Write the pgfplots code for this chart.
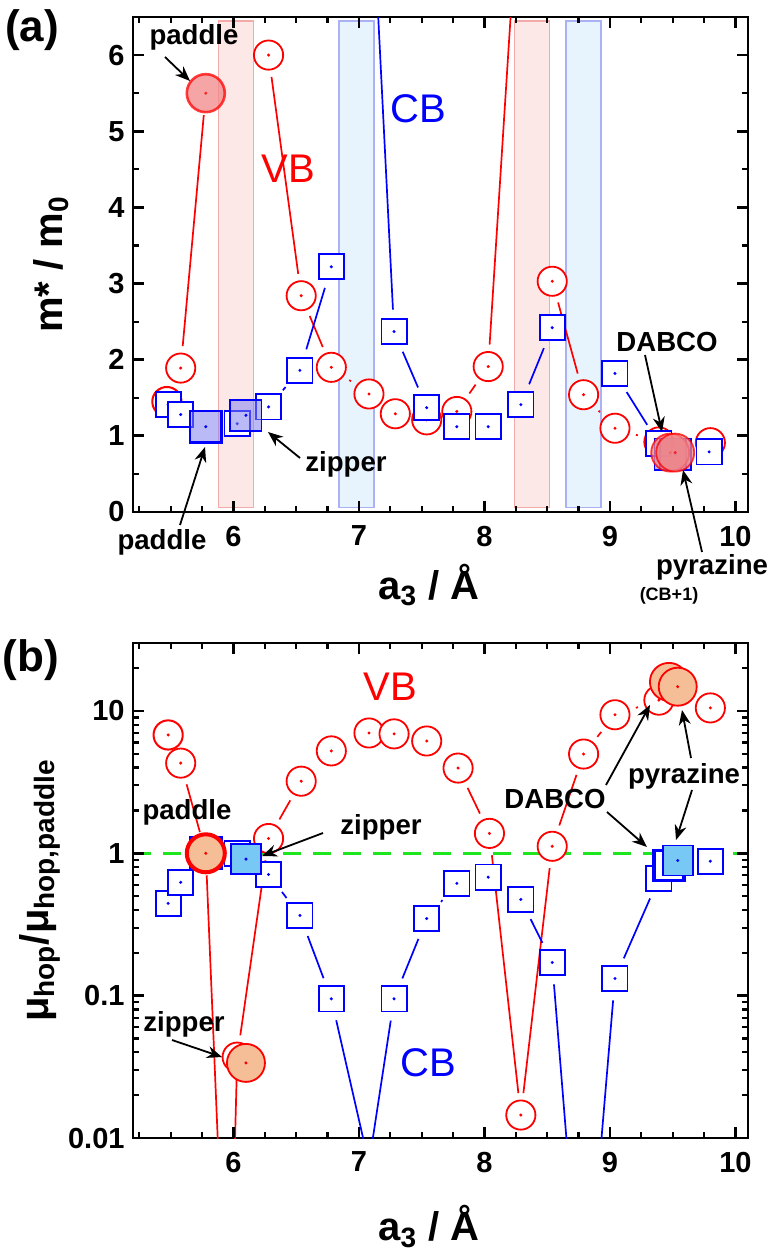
\documentclass[border=0pt]{standalone}
\usepackage{fontspec}
\setmainfont{Liberation Sans}
\usepackage{pgfplots}
\pgfplotsset{compat=1.18}
\usetikzlibrary{arrows.meta}

\definecolor{vbred}{RGB}{255,0,0}
\definecolor{cbblue}{RGB}{0,0,255}
\definecolor{bandR}{RGB}{253,232,232}
\definecolor{bandRe}{RGB}{245,170,170}
\definecolor{bandB}{RGB}{232,244,253}
\definecolor{bandBe}{RGB}{170,178,245}
\definecolor{hlorange}{RGB}{245,190,150}
\definecolor{hlblue}{RGB}{120,200,245}
\definecolor{dashgreen}{RGB}{30,230,30}
\definecolor{pinkfill}{RGB}{242,135,135}
\definecolor{violetfill}{RGB}{130,130,240}

\pgfdeclareplotmark{cdot}{%
  \pgfpathcircle{\pgfpointorigin}{\pgfplotmarksize}%
  \pgfusepathqfillstroke
  \pgfsetlinewidth{0.9pt}%
  \pgfpathcircle{\pgfpointorigin}{0.2pt}%
  \pgfusepathqstroke
}
\pgfdeclareplotmark{sdot}{%
  \pgfpathrectangle{\pgfqpoint{-\pgfplotmarksize}{-\pgfplotmarksize}}{\pgfqpoint{2\pgfplotmarksize}{2\pgfplotmarksize}}%
  \pgfusepathqfillstroke
  \pgfsetlinewidth{0.9pt}%
  \pgfpathcircle{\pgfpointorigin}{0.2pt}%
  \pgfusepathqstroke
}

\pgfplotsset{
  vbm/.style={only marks, mark=cdot, mark size=7.3pt, mark options={draw=vbred, fill=white, line width=1pt, solid}},
  cbm/.style={only marks, mark=sdot, mark size=6.3pt, mark options={draw=cbblue, fill=white, line width=1pt, solid}},
  vbl/.style={vbred, line width=0.85pt, no markers},
  cbl/.style={cbblue, line width=0.85pt, no markers},
  myaxis/.style={
    scale only axis, width=307.5pt, height=247.5pt, anchor=south west,
    xmin=5.2, xmax=10.1, xtick={6,7,8,9,10}, xticklabels={6,7,8,9,10},
    minor x tick num=3,
    axis line style={line width=1.4pt},
    major tick style={black, line width=1.4pt},
    minor tick style={black, line width=1.1pt},
    major tick length=5.5pt, minor tick length=3.2pt,
    tick align=inside, xtick pos=both, ytick pos=both,
    xticklabel pos=lower, yticklabel pos=left,
    ticklabel style={font=\fontsize{14.5}{14.5}\selectfont\bfseries},
    xticklabel style={yshift=-3.4pt},
    yticklabel style={xshift=-0.7pt},
    /pgf/number format/assume math mode=true,
    label style={font=\fontsize{20}{20}\selectfont\bfseries},
  }
}

\newcommand\sg[5]{\addplot[#1, shorten <=11pt, shorten >=11pt] coordinates {(#2,#3) (#4,#5)};}
\newcommand\sgS[5]{\addplot[#1, shorten <=11pt] coordinates {(#2,#3) (#4,#5)};}
\newcommand\sgE[5]{\addplot[#1, shorten >=11pt] coordinates {(#2,#3) (#4,#5)};}

\tikzset{
  ann/.style={font=\fontsize{13.8}{13.8}\selectfont\bfseries, inner sep=0pt, anchor=center},
  arr/.style={-{Stealth[length=7.5pt,width=6pt]}, line width=0.9pt, black},
}

\begin{document}
\begin{tikzpicture}
\useasboundingbox (0,0) rectangle (385.5pt,-626pt);

% ---------------- (a) ----------------
\begin{axis}[myaxis, at={(66.5pt,-256pt)},
  ymin=0, ymax=6.5, ytick={0,1,2,3,4,5,6}, yticklabels={0,1,2,3,4,5,6},
  minor y tick num=1,
  xlabel={a\textsubscript{3} / Å},
  xlabel style={at={(axis description cs:0.481,-0.147)}, anchor=center},
  ylabel={m* / m\textsubscript{0}},
  ylabel style={at={(axis description cs:-0.133,0.5)}, anchor=center},
]
\draw[fill=bandR, draw=bandRe, line width=0.7pt] (axis cs:5.88,0.06) rectangle (axis cs:6.16,6.45);
\draw[fill=bandB, draw=bandBe, line width=0.7pt] (axis cs:6.84,0.06) rectangle (axis cs:7.12,6.45);
\draw[fill=bandR, draw=bandRe, line width=0.7pt] (axis cs:8.24,0.06) rectangle (axis cs:8.52,6.45);
\draw[fill=bandB, draw=bandBe, line width=0.7pt] (axis cs:8.65,0.06) rectangle (axis cs:8.93,6.45);

% VB lines
\sg{vbl}{5.58}{1.89}{5.78}{5.5}
\sg{vbl}{6.28}{6.0}{6.54}{2.84}
\sg{vbl}{6.54}{2.84}{6.78}{1.9}
\sg{vbl}{6.78}{1.9}{7.08}{1.55}
\sg{vbl}{7.78}{1.32}{8.03}{1.91}
\sgS{vbl}{8.03}{1.91}{8.29}{8.6}
\sg{vbl}{8.54}{3.03}{8.79}{1.54}
\sg{vbl}{8.79}{1.54}{9.04}{1.1}
\sg{vbl}{9.04}{1.1}{9.39}{0.92}
% CB lines
\sg{cbl}{6.28}{1.38}{6.53}{1.86}
\sg{cbl}{6.53}{1.86}{6.78}{3.22}
\sgE{cbl}{7.05}{9.9}{7.28}{2.37}
\sg{cbl}{7.28}{2.37}{7.54}{1.37}
\sg{cbl}{8.29}{1.41}{8.54}{2.42}
\sg{cbl}{9.04}{1.82}{9.39}{0.9}

% VB open
\addplot[vbm] coordinates {(5.47,1.45) (5.58,1.89) (6.28,6.0) (6.54,2.84) (6.78,1.9) (7.08,1.55) (7.29,1.29) (7.54,1.21) (7.78,1.32) (8.03,1.91) (8.54,3.03) (8.79,1.54) (9.04,1.1) (9.39,0.92) (9.8,0.91)};
% CB open
\addplot[cbm] coordinates {(5.48,1.41) (5.58,1.28) (6.03,1.16) (6.28,1.38) (6.53,1.86) (6.78,3.22) (7.28,2.37) (7.54,1.37) (7.78,1.12) (8.03,1.12) (8.29,1.41) (8.54,2.42) (9.04,1.82) (9.39,0.9) (9.79,0.79)};
% CB highlighted
\addplot[only marks, mark=sdot, mark size=7.8pt, mark options={draw=cbblue, fill=violetfill, fill opacity=0.55, line width=1.3pt}] coordinates {(5.78,1.12) (6.1,1.27) (9.48,0.76) (9.52,0.76)};
% VB highlighted
\addplot[only marks, mark=cdot, mark size=9.5pt, mark options={draw=vbred, draw opacity=0.75, fill=pinkfill, fill opacity=0.75, line width=1.3pt}] coordinates {(5.78,5.5) (9.48,0.78) (9.52,0.78)};
\end{axis}

% ---------------- (b) ----------------
\begin{axis}[myaxis, at={(66.5pt,-569pt)},
  ymode=log, ymin=0.01, ymax=30,
  ytick={0.01,0.1,1,10}, yticklabels={0.01,0.1,1,10},
  xlabel={a\textsubscript{3} / Å},
  xlabel style={at={(axis description cs:0.481,-0.179)}, anchor=center},
  ylabel={μ\textsubscript{hop}/μ\textsubscript{hop,paddle}},
  ylabel style={at={(axis description cs:-0.151,0.5)}, anchor=center},
]
\addplot[dashgreen, line width=1.5pt, dash pattern=on 9pt off 6pt, no markers] coordinates {(5.2,1) (10.1,1)};

% VB lines
\sg{vbl}{5.58}{4.3}{5.78}{1.0}
\sgS{vbl}{5.78}{1.0}{5.96}{1.6e-4}
\sgE{vbl}{5.96}{1.6e-4}{6.03}{0.037}
\sg{vbl}{6.03}{0.037}{6.28}{1.27}
\sg{vbl}{6.28}{1.27}{6.54}{3.21}
\sg{vbl}{7.79}{3.97}{8.04}{1.38}
\sg{vbl}{8.04}{1.38}{8.29}{0.0145}
\sg{vbl}{8.29}{0.0145}{8.54}{1.12}
\sg{vbl}{8.54}{1.12}{8.79}{4.98}
\sg{vbl}{8.79}{4.98}{9.04}{9.4}
\sg{vbl}{9.04}{9.4}{9.39}{11.9}
% CB lines
\sg{cbl}{6.28}{0.71}{6.53}{0.366}
\sg{cbl}{6.53}{0.366}{6.78}{0.095}
\sgS{cbl}{6.78}{0.095}{7.08}{0.0066}
\sgE{cbl}{7.08}{0.0066}{7.28}{0.095}
\sg{cbl}{7.28}{0.095}{7.54}{0.348}
\sg{cbl}{7.54}{0.348}{7.78}{0.615}
\sg{cbl}{8.29}{0.474}{8.54}{0.171}
\sgS{cbl}{8.54}{0.171}{8.79}{3.2e-4}
\sgE{cbl}{8.79}{3.2e-4}{9.04}{0.132}
\sg{cbl}{9.04}{0.132}{9.39}{0.667}

% VB open
\addplot[vbm] coordinates {(5.48,6.78) (5.58,4.3) (6.03,0.037) (6.28,1.27) (6.54,3.21) (6.78,5.24) (7.08,7.0) (7.28,6.9) (7.54,6.15) (7.79,3.97) (8.04,1.38) (8.29,0.0145) (8.54,1.12) (8.79,4.98) (9.04,9.4) (9.39,11.9) (9.8,10.5)};
% CB open
\addplot[cbm] coordinates {(5.48,0.445) (5.58,0.625) (6.03,1.0) (6.28,0.71) (6.53,0.366) (6.78,0.095) (7.28,0.095) (7.54,0.348) (7.78,0.615) (8.03,0.68) (8.29,0.474) (8.54,0.171) (9.04,0.132) (9.39,0.667) (9.8,0.88)};
\addplot[only marks, mark=sdot, mark size=7.5pt, mark options={draw=cbblue, fill=white, line width=1.8pt}] coordinates {(9.47,0.82)};
% CB highlighted
\addplot[only marks, mark=sdot, mark size=7.5pt, mark options={draw=cbblue, fill=hlblue, line width=1.8pt}] coordinates {(5.78,1.0) (6.1,0.91) (9.54,0.89)};
% VB highlighted
\addplot[only marks, mark=cdot, mark size=9.5pt, mark options={draw=vbred, fill=hlorange, line width=2pt}] coordinates {(5.78,1.0) (6.1,0.0337) (9.47,16.0) (9.54,14.8)};
\end{axis}

% ---------------- ticks (frame decoration, pixel units) ----------------
\begin{scope}[x=0.5pt, y=-0.5pt, black]
\foreach \yb/\yt in {512/17, 1138/643} {
  \foreach \v in {5.25,5.5,...,10} {
    \pgfmathsetmacro\px{133+125.51*(\v-5.2)}
    \draw[line width=1.1pt] (\px,\yb) -- ++(0,-6.4);
    \draw[line width=1.1pt] (\px,\yt) -- ++(0,6.4);
  }
  \foreach \v in {6,7,8,9,10} {
    \pgfmathsetmacro\px{133+125.51*(\v-5.2)}
    \draw[line width=1.4pt] (\px,\yb) -- ++(0,-11);
    \draw[line width=1.4pt] (\px,\yt) -- ++(0,11);
  }
}
% top panel y ticks
\foreach \v in {0.5,1.5,2.5,3.5,4.5,5.5} {
  \pgfmathsetmacro\py{512-76.154*\v}
  \draw[line width=1.1pt] (133,\py) -- ++(6.4,0);
  \draw[line width=1.1pt] (748,\py) -- ++(-6.4,0);
}
\foreach \v in {1,2,3,4,5,6} {
  \pgfmathsetmacro\py{512-76.154*\v}
  \draw[line width=1.4pt] (133,\py) -- ++(11,0);
  \draw[line width=1.4pt] (748,\py) -- ++(-11,0);
}
% bottom panel log ticks
\foreach \d in {0,1,2} {
  \foreach \k in {2,3,4,5,6,7,8,9} {
    \pgfmathsetmacro\py{1138-142.36*(\d+log10(\k))}
    \draw[line width=1.1pt] (133,\py) -- ++(6.4,0);
    \draw[line width=1.1pt] (748,\py) -- ++(-6.4,0);
  }
}
\pgfmathsetmacro\py{1138-142.36*(3+log10(2))}
\draw[line width=1.1pt] (133,\py) -- ++(6.4,0);
\draw[line width=1.1pt] (748,\py) -- ++(-6.4,0);
\foreach \d in {1,2,3} {
  \pgfmathsetmacro\py{1138-142.36*\d}
  \draw[line width=1.4pt] (133,\py) -- ++(11,0);
  \draw[line width=1.4pt] (748,\py) -- ++(-11,0);
}
\end{scope}

% ---------------- annotations ----------------
\begin{scope}[x=0.5pt, y=-0.5pt]
\node[font=\fontsize{22}{22}\selectfont\bfseries, inner sep=0pt] at (32,30) {(a)};
\node[font=\fontsize{22}{22}\selectfont\bfseries, inner sep=0pt] at (31,660) {(b)};

\node[vbred, font=\fontsize{20}{20}\selectfont, inner sep=0pt] at (288,169) {VB};
\node[cbblue, font=\fontsize{20}{20}\selectfont, inner sep=0pt] at (418,109) {CB};
\node[ann] at (194,37) {paddle};
\draw[arr] (165,57) -- (190,81);
\node[ann] at (162,542) {paddle};
\draw[arr] (180,525) -- (205,447);
\node[ann] at (346,464) {zipper};
\draw[arr] (300,458) -- (268,432);
\node[ann] at (667,342) {DABCO};
\draw[arr] (645,355) -- (662,432);
\node[ann] at (712,567) {pyrazine};
\draw[arr] (702,552) -- (683,470);
\node[font=\fontsize{9}{9}\selectfont\bfseries, inner sep=0pt] at (669,596) {(CB+1)};

\node[vbred, font=\fontsize{20}{20}\selectfont, inner sep=0pt] at (390,687) {VB};
\node[cbblue, font=\fontsize{20}{20}\selectfont, inner sep=0pt] at (428,1063) {CB};
\node[ann] at (187,812) {paddle};
\node[ann] at (381,827) {zipper};
\draw[arr] (323,833) -- (262,856);
\node[ann] at (184,1024) {zipper};
\draw[arr] (172,1040) -- (222,1057);
\node[ann] at (555,799) {DABCO};
\draw[arr] (606,785) -- (650,705);
\draw[arr] (607,812) -- (647,847);
\node[ann] at (684,776) {pyrazine};
\draw[arr] (691,758) -- (682,710);
\draw[arr] (692,790) -- (676,840);
\end{scope}
\end{tikzpicture}
\end{document}
